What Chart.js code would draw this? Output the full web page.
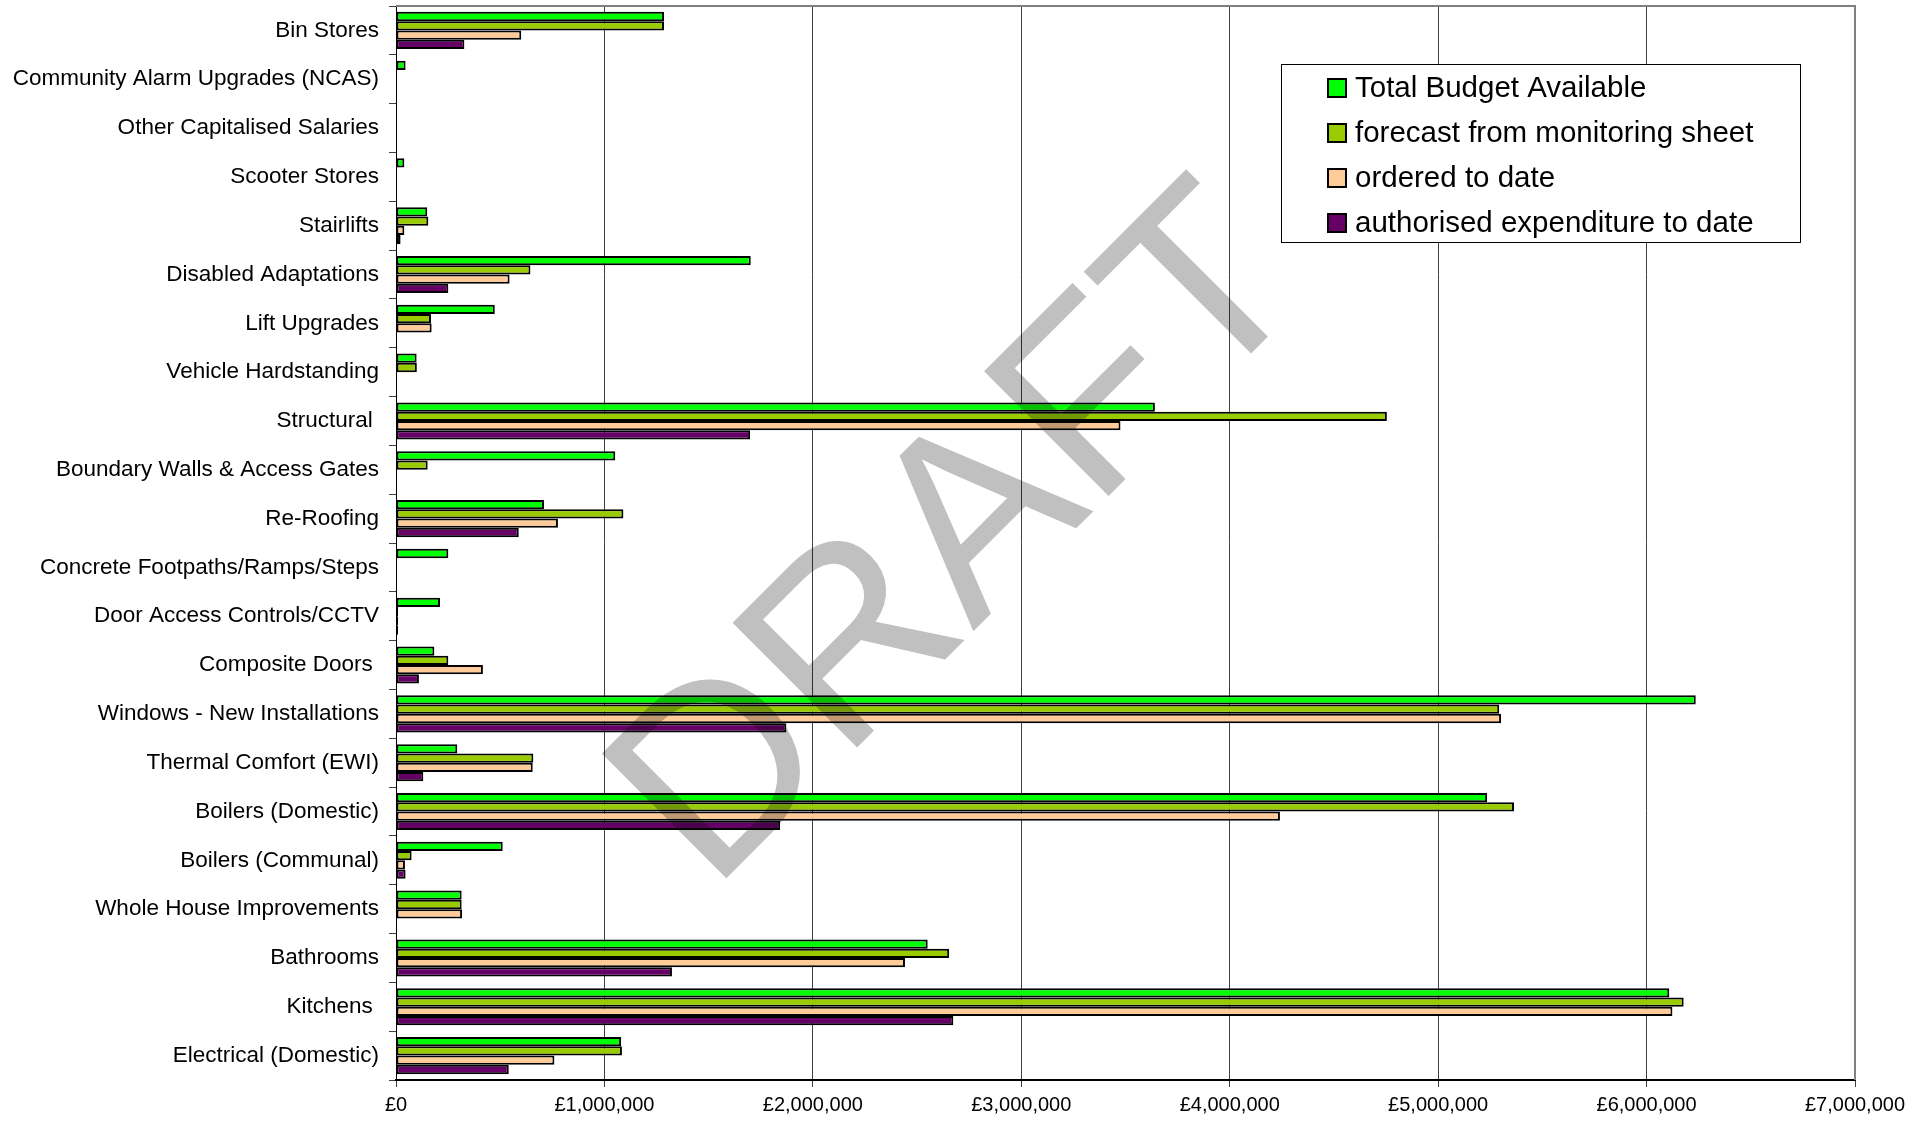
<!DOCTYPE html>
<html>
<head>
<meta charset="utf-8">
<script src="https://cdn.jsdelivr.net/npm/chart.js@4"></script>
<style>
    html, body { margin: 0; padding: 0; background: #fff; }
    #wrap { width: 1928px; height: 1122px; position: relative; }
</style>
</head>
<body>
<div id="wrap"><canvas id="budgetChart"></canvas></div>
<script>
// ==========================================
// Capital programme budget vs spend (horizontal bars)
// ==========================================

const categories = [
    'Bin Stores', 'Community Alarm Upgrades (NCAS)', 'Other Capitalised Salaries', 'Scooter Stores',
    'Stairlifts', 'Disabled Adaptations', 'Lift Upgrades', 'Vehicle Hardstanding', 'Structural ',
    'Boundary Walls & Access Gates', 'Re-Roofing', 'Concrete Footpaths/Ramps/Steps',
    'Door Access Controls/CCTV', 'Composite Doors ', 'Windows - New Installations',
    'Thermal Comfort (EWI)', 'Boilers (Domestic)', 'Boilers (Communal)', 'Whole House Improvements',
    'Bathrooms', 'Kitchens ', 'Electrical (Domestic)'
];

const seriesNames = ['Total Budget Available', 'forecast from monitoring sheet', 'ordered to date', 'authorised expenditure to date'];

// values (null = no bar)
const totalBudget = [1286000, 46000, null, 40000, 150000, 1702000, 474000, 99000, 3641000, 1052000, 710000,
    251000, 211000, 184000, 6236000, 294000, 5235000, 512000, 315000, 2551000, 6109000, 1080000];
const forecast = [1286000, null, null, null, 155000, 645000, 168000, 100000, 4754000, 152000, 1091000,
    null, 10000, 251000, 5293000, 659000, 5364000, 75000, 315000, 2654000, 6178000, 1084000];
const ordered = [601000, null, null, null, 40000, 545000, 171000, null, 3476000, null, 777000,
    null, 10000, 417000, 5302000, 656000, 4241000, 43000, 317000, 2442000, 6124000, 760000];
const authorised = [328000, null, null, null, 22000, 251000, null, null, 1699000, null, 589000,
    null, 10000, 110000, 1873000, 131000, 1843000, 46000, null, 1324000, 2674000, 541000];

const seriesColors = ['#00FF00', '#99CC00', '#FFCC99', '#660066'];

const xTicks = [0, 1000000, 2000000, 3000000, 4000000, 5000000, 6000000, 7000000];

const FONT = "'Liberation Sans', Arial, sans-serif";

// plot frame (grey top/right border like the Excel plot area)
const frameBorder = {
    id: 'frameBorder',
    beforeDatasetsDraw(chart) {
        const { ctx, chartArea: a } = chart;
        ctx.save();
        ctx.strokeStyle = '#808080';
        ctx.lineWidth = 2;
        ctx.beginPath();
        ctx.moveTo(a.left, a.top);
        ctx.lineTo(a.right, a.top);
        ctx.lineTo(a.right, a.bottom);
        ctx.stroke();
        ctx.restore();
    }
};

// DRAFT watermark drawn over the bars
const draftStamp = {
    id: 'draftStamp',
    afterDatasetsDraw(chart) {
        const { ctx, chartArea: a } = chart;
        const cx = a.left + 0.423 * (a.right - a.left);
        const cy = a.top + 0.545 * (a.bottom - a.top);
        ctx.save();
        ctx.globalCompositeOperation = 'multiply';
        ctx.translate(cx, cy);
        ctx.rotate(-Math.PI / 4);
        ctx.fillStyle = '#c0c0c0';
        ctx.font = `256px ${FONT}`;
        ctx.textAlign = 'center';
        ctx.textBaseline = 'alphabetic';
        ctx.fillText('DRAFT', 0, 0);
        ctx.restore();
    }
};

// legend box inside the plot, top right
const boxLegend = {
    id: 'boxLegend',
    afterDraw(chart) {
        const { ctx, chartArea: a } = chart;
        const left = a.right - 574, top = a.top + 58, w = 519, h = 178;
        ctx.save();
        ctx.fillStyle = '#fff';
        ctx.fillRect(left, top, w, h);
        ctx.strokeStyle = '#000';
        ctx.lineWidth = 1;
        ctx.strokeRect(left + 0.5, top + 0.5, w, h);
        ctx.font = `29.5px ${FONT}`;
        ctx.textBaseline = 'middle';
        ctx.textAlign = 'left';
        chart.data.datasets.forEach((ds, i) => {
            const y = top + 24 + i * 45;
            ctx.fillStyle = ds.backgroundColor;
            ctx.fillRect(left + 47, y - 9, 18, 18);
            ctx.strokeStyle = '#000';
            ctx.lineWidth = 2;
            ctx.strokeRect(left + 47, y - 9, 18, 18);
            ctx.fillStyle = '#000';
            ctx.fillText(ds.label, left + 74, y + 1);
        });
        ctx.restore();
    }
};

const seriesData = [totalBudget, forecast, ordered, authorised];

new Chart(document.getElementById('budgetChart'), {
    type: 'bar',
    data: {
        labels: categories,
        datasets: seriesData.map((vals, i) => ({
            label: seriesNames[i],
            data: vals,
            backgroundColor: seriesColors[i],
            borderColor: '#000',
            borderWidth: 2,
            borderSkipped: false,
            categoryPercentage: 0.76,
            barPercentage: 1.0
        }))
    },
    options: {
        indexAxis: 'y',
        responsive: true,
        maintainAspectRatio: false,
        animation: false,
        layout: { padding: { left: 0, top: 6, right: 73, bottom: 0 } },
        scales: {
            x: {
                min: 0,
                max: 7000000,
                afterBuildTicks(scale) { scale.ticks = xTicks.map(v => ({ value: v })); },
                afterFit(scale) { scale.height = 42; },
                border: { color: '#000', width: 2 },
                grid: { color: '#404040', lineWidth: 1, tickLength: 7, tickColor: '#404040' },
                ticks: {
                    color: '#000',
                    padding: 6,
                    maxRotation: 0,
                    autoSkip: false,
                    font: { family: FONT, size: 20 },
                    callback: v => '£' + Number(v).toLocaleString('en-GB')
                }
            },
            y: {
                // fixed axis width, and no extra label padding above/below the plot
                afterFit(scale) {
                    scale.width = 396;
                    scale.paddingTop = 0;
                    scale.paddingBottom = 0;
                },
                border: { color: '#000', width: 1 },
                grid: { offset: true, drawOnChartArea: false, tickLength: 7, tickColor: '#404040' },
                ticks: {
                    color: '#000',
                    padding: 10,
                    autoSkip: false,
                    font: { family: FONT, size: 22.5 }
                }
            }
        },
        plugins: {
            legend: { display: false },
            tooltip: { enabled: false }
        }
    },
    plugins: [frameBorder, draftStamp, boxLegend]
});
</script>
</body>
</html>
